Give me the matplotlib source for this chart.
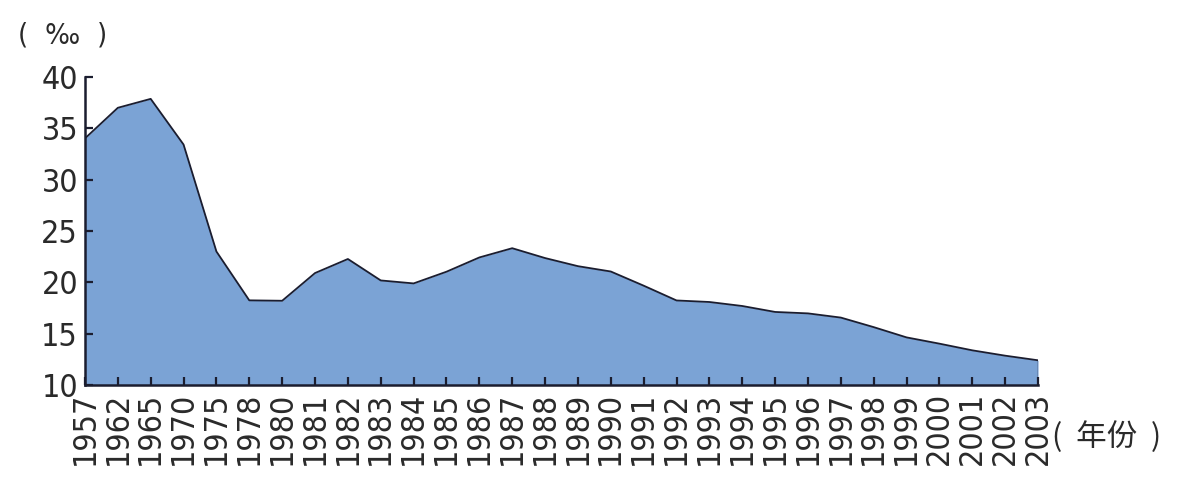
import matplotlib.pyplot as plt
import numpy as np

##### Data
years = ['1957', '1962', '1965', '1970', '1975', '1978', '1980', '1981', '1982', '1983',
         '1984', '1985', '1986', '1987', '1988', '1989', '1990', '1991', '1992', '1993',
         '1994', '1995', '1996', '1997', '1998', '1999', '2000', '2001', '2002', '2003']
birth_rate = [34.03, 37.01, 37.88, 33.43, 23.01, 18.25, 18.21, 20.91, 22.28, 20.19,
              19.90, 21.04, 22.43, 23.33, 22.37, 21.58, 21.06, 19.68, 18.24, 18.09,
              17.70, 17.12, 16.98, 16.57, 15.64, 14.64, 14.03, 13.38, 12.86, 12.41]
y_ticks = [10, 15, 20, 25, 30, 35, 40]

##### Style
fill_color = '#7ba3d5'
dark = '#1b1d2f'
text_color = '#2a2a2a'
plt.rcParams['font.family'] = ['DejaVu Sans']

fig = plt.figure(figsize=[11.85, 4.88], dpi=100)
ax = fig.add_axes([0.0717, 0.211, 0.876 - 0.0717, 0.842 - 0.211])

x = np.arange(len(years))
ax.fill_between(x, 10, birth_rate, color=fill_color, linewidth=0)
ax.plot(x, birth_rate, color=dark, linewidth=1.3)
ax.plot([x[-1], x[-1]], [10, birth_rate[-1]], color=dark, linewidth=1.0)

ax.set_xlim(0, len(years) - 1)
ax.set_ylim(10, 40)
ax.set_xticks(x)
ax.set_xticklabels(years, rotation=90, fontsize=23, color=text_color,
                   fontstretch='condensed', fontweight='light')
ax.set_yticks(y_ticks)
ax.set_yticklabels([str(v) for v in y_ticks], fontsize=23, color=text_color,
                   fontstretch='condensed', fontweight='light')

for side in ['top', 'right']:
    ax.spines[side].set_visible(False)
for side in ['left', 'bottom']:
    ax.spines[side].set_color(dark)
    ax.spines[side].set_linewidth(1.8)
ax.tick_params(axis='both', direction='in', length=6, width=1.6, color=dark, pad=5)

fig.text(0.015, 0.928, '(  ‰  )', fontsize=21, color=text_color,
         family=['DejaVu Sans'], fontstretch='condensed', va='center', ha='left')
fig.text(0.888, 0.104, '(  年份  )', fontsize=22, color=text_color,
         family=['Noto Sans CJK SC', 'DejaVu Sans'], va='center', ha='left')

plt.savefig('out.png', dpi=100)
plt.close()
